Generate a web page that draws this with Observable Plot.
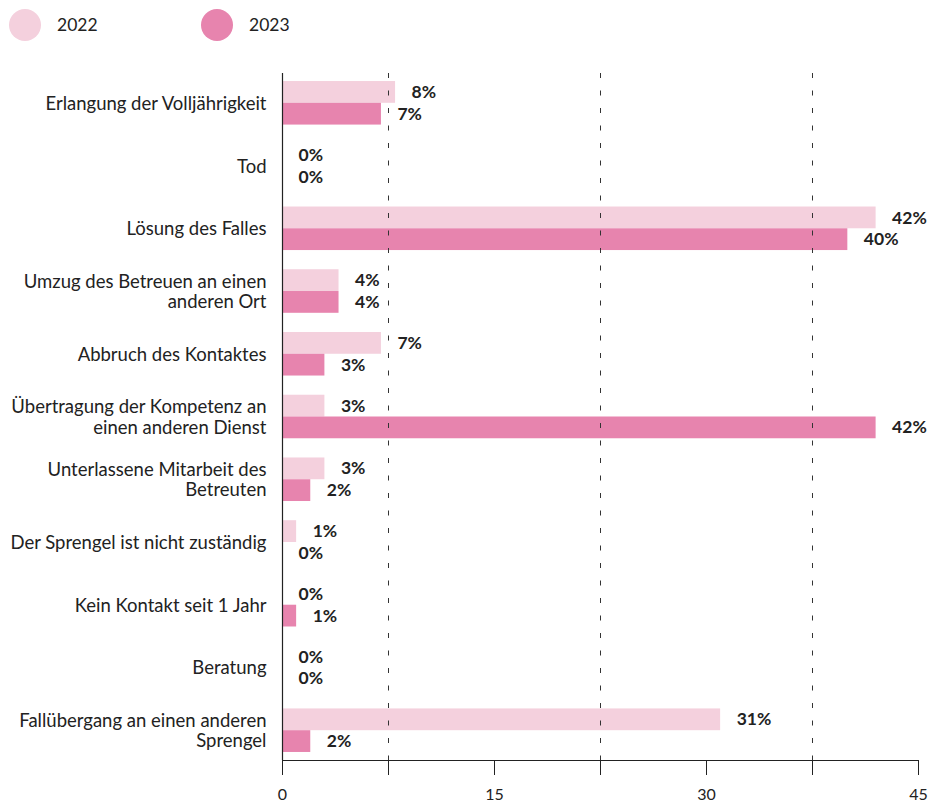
<!DOCTYPE html>
<html>
<head>
<meta charset="utf-8">
<script src="https://cdn.jsdelivr.net/npm/d3@7"></script>
<script src="https://cdn.jsdelivr.net/npm/@observablehq/plot@0.6"></script>
<style>
  body { margin: 0; background: #fff; font-family: Lato, "Noto Sans", sans-serif; color: #222; }
  #legend { position: relative; height: 50px; width: 928px; }
  .sw { position: absolute; width: 32px; height: 32px; border-radius: 50%; top: 9px; }
  .lt { position: absolute; top: 13px; font-size: 17.5px; line-height: 24px; }
  svg { display: block; }
</style>
</head>
<body>
<div id="legend"></div>
<div id="chart"></div>
<script>
const categories = [
  "Erlangung der Volljährigkeit",
  "Tod",
  "Lösung des Falles",
  "Umzug des Betreuen an einen\nanderen Ort",
  "Abbruch des Kontaktes",
  "Übertragung der Kompetenz an\neinen anderen Dienst",
  "Unterlassene Mitarbeit des\nBetreuten",
  "Der Sprengel ist nicht zuständig",
  "Kein Kontakt seit 1 Jahr",
  "Beratung",
  "Fallübergang an einen anderen\nSprengel"
];
const years = ["2022", "2023"];
const values2022 = [8, 0, 42, 4, 7, 3, 3, 1, 0, 0, 31];
const values2023 = [7, 0, 40, 4, 3, 42, 2, 0, 1, 0, 2];
const colors = ["#f4d0dd", "#e784ae"];
const xTicks = [0, 7.5, 15, 22.5, 30, 37.5, 45];
const xLabelTicks = [0, 15, 30, 45];
const gridLines = [7.5, 22.5, 37.5];

// legend
const legend = document.getElementById("legend");
const lx = [{c: 9, t: 57}, {c: 201, t: 249}];
years.forEach((y, i) => {
  const s = document.createElement("div");
  s.className = "sw"; s.style.left = lx[i].c + "px"; s.style.background = colors[i];
  legend.appendChild(s);
  const t = document.createElement("div");
  t.className = "lt"; t.style.left = lx[i].t + "px"; t.textContent = y;
  legend.appendChild(t);
});

const d2022 = categories.map((c, i) => ({category: c, value: values2022[i]}));
const d2023 = categories.map((c, i) => ({category: c, value: values2023[i]}));

const height = 755, marginTop = 23, marginBottom = 45;
const pInner = 0.306, pOuter = 0.128;
const step = (height - marginTop - marginBottom) / (categories.length - pInner + 2 * pOuter);
const half = step * (1 - pInner) / 2;

const chart = Plot.plot({
  width: 928,
  height,
  marginLeft: 282,
  marginRight: 10,
  marginTop,
  marginBottom,
  style: {fontFamily: "Lato, 'Noto Sans', sans-serif", fontSize: "16px", color: "#222", background: "#fff"},
  x: {domain: [0, 45], ticks: xTicks, tickSize: 15, tickPadding: 13, tickFormat: d => xLabelTicks.includes(d) ? d : "", label: null, line: true},
  y: {domain: categories, paddingInner: pInner, paddingOuter: pOuter, round: false, label: null, axis: null},
  marks: [
    Plot.barX(d2022, {x: "value", y: "category", fill: colors[0], insetBottom: half}),
    Plot.barX(d2023, {x: "value", y: "category", fill: colors[1], insetTop: half}),
    Plot.ruleX(gridLines, {stroke: "#333", strokeWidth: 1, strokeDasharray: "5,12.5"}),
    Plot.ruleX([0], {stroke: "#222", strokeWidth: 1.2}),
    Plot.axisY({tickSize: 0, tickPadding: 16, fontSize: 18.5, lineHeight: 1.1, label: null}),
    Plot.text(d2022, {x: "value", y: "category", text: d => d.value + "%", dy: -half / 2, dx: 16, textAnchor: "start", fontWeight: "bold", fontSize: 17.5, fill: "#222"}),
    Plot.text(d2023, {x: "value", y: "category", text: d => d.value + "%", dy: half / 2, dx: 16, textAnchor: "start", fontWeight: "bold", fontSize: 17.5, fill: "#222"})
  ]
});
document.getElementById("chart").appendChild(chart);
</script>
</body>
</html>
